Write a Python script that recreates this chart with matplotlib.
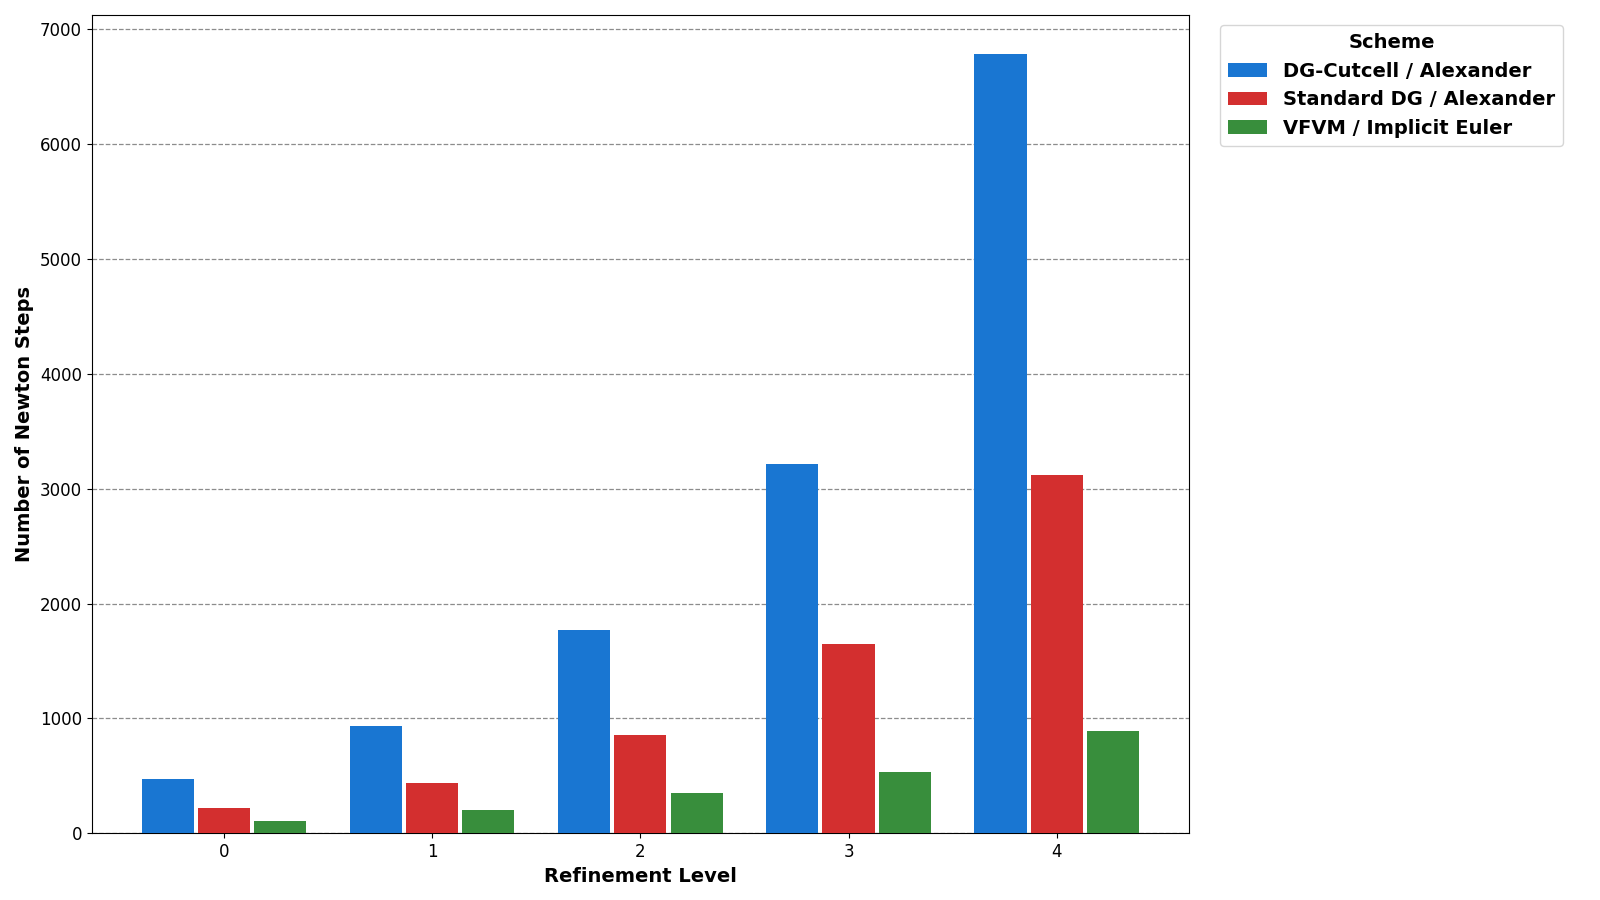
import matplotlib
matplotlib.use("Agg")
import matplotlib.pyplot as plt
import numpy as np

levels = [0, 1, 2, 3, 4]
schemes = ["DG-Cutcell / Alexander", "Standard DG / Alexander", "VFVM / Implicit Euler"]
dg_cutcell = [470, 933, 1772, 3211, 6780]
standard_dg = [220, 438, 855, 1646, 3116]
vfvm = [110, 203, 350, 533, 890]
colors = ["#1976D2", "#D32F2F", "#388E3C"]

fig = plt.figure(figsize=(16, 9), dpi=100)
ax = fig.add_axes([0.0574, 0.074, 0.6856, 0.909])

x = np.arange(len(levels))
width = 0.25
offsets = [-0.27, 0.0, 0.27]
for vals, off, c, lab in zip([dg_cutcell, standard_dg, vfvm], offsets, colors, schemes):
    ax.bar(x + off, vals, width, color=c, label=lab, zorder=3)

ax.set_xticks(x)
ax.set_xticklabels([str(l) for l in levels])
ax.tick_params(axis="both", labelsize=12)
ax.set_xlabel("Refinement Level", fontsize=14, fontweight="bold")
ax.set_ylabel("Number of Newton Steps", fontsize=14, fontweight="bold")
ax.yaxis.grid(True, linestyle="--", color="gray", linewidth=0.9, alpha=0.9, zorder=0)
ax.set_axisbelow(True)

leg = ax.legend(title="Scheme", loc="upper left", bbox_to_anchor=(1.02, 1.0),
                prop={"size": 14, "weight": "bold"}, title_fontproperties={"size": 14, "weight": "bold"})

fig.savefig("out.png", dpi=100)
